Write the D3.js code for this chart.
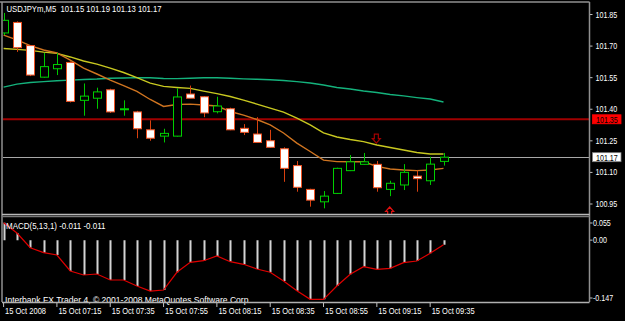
<!DOCTYPE html>
<html>
<head>
<meta charset="utf-8">
<script src="https://cdn.jsdelivr.net/npm/d3@7"></script>
<style>
  html, body { margin: 0; padding: 0; background: #000; }
  svg { display: block; }
  text { font-family: "Liberation Sans", Arial, sans-serif; font-size: 9.5px; fill: #fff; }
</style>
</head>
<body>
<script>
// USDJPYm M5 bars, 06:55 .. 09:40
let opens  = [101.76, 101.81, 101.70, 101.55, 101.59, 101.62, 101.44, 101.45, 101.49, 101.398, 101.385, 101.30, 101.27, 101.27, 101.47, 101.457, 101.386, 101.40, 101.307, 101.28, 101.248, 101.21, 101.13, 101.017, 100.958, 100.998, 101.106, 101.136, 101.136, 101.017, 101.038, 101.08, 101.058, 101.15];
let highs  = [101.855, 101.815, 101.70, 101.665, 101.665, 101.625, 101.52, 101.50, 101.495, 101.44, 101.39, 101.345, 101.305, 101.497, 101.51, 101.46, 101.457, 101.405, 101.327, 101.36, 101.30, 101.217, 101.152, 101.02, 101.009, 101.12, 101.18, 101.19, 101.152, 101.058, 101.137, 101.106, 101.172, 101.19];
let lows   = [101.75, 101.67, 101.555, 101.548, 101.56, 101.43, 101.367, 101.40, 101.38, 101.367, 101.26, 101.248, 101.24, 101.268, 101.45, 101.36, 101.378, 101.298, 101.275, 101.24, 101.215, 101.053, 101.006, 100.935, 100.927, 100.995, 101.104, 101.135, 101.006, 100.985, 101.014, 101.006, 101.038, 101.13];
let closes = [101.82, 101.69, 101.56, 101.60, 101.61, 101.435, 101.46, 101.48, 101.385, 101.40, 101.305, 101.26, 101.283, 101.456, 101.45, 101.38, 101.413, 101.30, 101.288, 101.24, 101.217, 101.117, 101.027, 100.966, 100.985, 101.117, 101.148, 101.148, 101.025, 101.046, 101.098, 101.068, 101.137, 101.17];

// moving averages
let maFast = [101.750, 101.727, 101.700, 101.679, 101.665, 101.631, 101.593, 101.565, 101.536, 101.510, 101.482, 101.444, 101.411, 101.420, 101.422, 101.418, 101.413, 101.387, 101.370, 101.349, 101.323, 101.285, 101.237, 101.197, 101.156, 101.149, 101.148, 101.148, 101.126, 101.114, 101.109, 101.106, 101.109, 101.117];
let maMid  = [101.686, 101.682, 101.677, 101.669, 101.663, 101.646, 101.627, 101.612, 101.593, 101.572, 101.548, 101.522, 101.506, 101.501, 101.497, 101.484, 101.472, 101.458, 101.441, 101.422, 101.403, 101.384, 101.356, 101.323, 101.285, 101.266, 101.254, 101.244, 101.228, 101.216, 101.204, 101.192, 101.185, 101.185];
let maSlow = [101.503, 101.517, 101.525, 101.529, 101.533, 101.536, 101.539, 101.541, 101.545, 101.546, 101.548, 101.547, 101.544, 101.543, 101.545, 101.547, 101.547, 101.545, 101.542, 101.540, 101.538, 101.534, 101.529, 101.522, 101.513, 101.501, 101.494, 101.484, 101.477, 101.468, 101.461, 101.453, 101.446, 101.432];

// MACD(5,13,1)
let macd = [0.0415, 0.017, -0.018, -0.0298, -0.0353, -0.0733, -0.0828, -0.0805, -0.0947, -0.0947, -0.109, -0.1209, -0.1185, -0.0764, -0.0527, -0.0489, -0.0377, -0.0512, -0.0574, -0.0686, -0.0764, -0.0971, -0.1201, -0.1406, -0.1406, -0.109, -0.0812, -0.0631, -0.0693, -0.0669, -0.0536, -0.0496, -0.0313, -0.011];

let arrowBars = [28, 29];
let arrowPrices = [101.258, 100.912];
let arrowDirs = ["down", "up"];

let priceTicks = [101.85, 101.70, 101.55, 101.40, 101.25, 101.10, 100.95];
let levelLine = 101.35;
let bidPrice = 101.17;
let macdTicks = [0.055, 0, -0.147];
let macdTickLabels = ["0.055", "0.00", "-0.147"];
let timeTickBars = [0, 4, 8, 12, 16, 20, 24, 28, 32];
let timeLabels = ["15 Oct 2008", "15 Oct 07:15", "15 Oct 07:35", "15 Oct 07:55", "15 Oct 08:15", "15 Oct 08:35", "15 Oct 08:55", "15 Oct 09:15", "15 Oct 09:35"];

let symbolTitle = "USDJPYm,M5";
let titleValues = ["101.15", "101.19", "101.13", "101.17"];
let macdTitle = "MACD(5,13,1) -0.011 -0.011";
let copyright = "Interbank FX Trader 4, \u00a9 2001-2008 MetaQuotes Software Corp.";

let w = 625, h = 321;
let left = 2, right = 589.5, mainTop = 2, mainBottom = 214, subTop = 217, subBottom = 302;

let x = d3.scaleLinear().domain([0, 33]).range([3.6, 443.5]);
let y = d3.scaleLinear().domain([100.95, 101.85]).range([203.5, 14]);
let ym = d3.scaleLinear().domain([-0.147, 0.055]).range([subBottom, subTop]);

// the terminal font is much narrower than anything installed: squeeze texts horizontally
function squeeze(sel, k) {
  sel.each(function() {
    let len = this.getComputedTextLength();
    this.setAttribute("textLength", len * k);
    this.setAttribute("lengthAdjust", "spacingAndGlyphs");
  });
}

let svg = d3.select("body").append("svg").attr("width", w).attr("height", h);
svg.append("rect").attr("width", w).attr("height", h).attr("fill", "#000");

let defs = svg.append("defs");
defs.append("clipPath").attr("id", "main-area").append("rect")
  .attr("x", left + 1).attr("y", mainTop + 1).attr("width", right - left - 1).attr("height", mainBottom - mainTop);
defs.append("clipPath").attr("id", "sub-area").append("rect")
  .attr("x", left + 1).attr("y", subTop).attr("width", right - left - 1).attr("height", subBottom - subTop);

let main = svg.append("g").attr("clip-path", "url(#main-area)");

// horizontal level + bid line
main.append("line").attr("x1", left).attr("x2", right)
  .attr("y1", y(levelLine)).attr("y2", y(levelLine))
  .attr("stroke", "#a00000").attr("stroke-width", 2);
main.append("line").attr("x1", left).attr("x2", right)
  .attr("y1", Math.round(y(bidPrice)) + 0.5).attr("y2", Math.round(y(bidPrice)) + 0.5)
  .attr("stroke", "#a8a8a8").attr("stroke-width", 1);

// moving averages
let maLine = d3.line().x((d, i) => x(i)).y(d => y(d));
let maData = [maSlow, maMid, maFast];
let maColors = ["#14b27c", "#c8c820", "#cf7420"];
main.selectAll(".ma").data(maData).enter().append("path")
  .attr("class", "ma")
  .attr("d", d => maLine(d))
  .attr("fill", "none")
  .attr("stroke", (d, i) => maColors[i])
  .attr("stroke-width", 1.4);

// candles
let bars = d3.range(opens.length);
let bull = i => closes[i] >= opens[i];
let candles = main.selectAll(".candle").data(bars).enter().append("g").attr("class", "candle");
candles.append("line")
  .attr("x1", i => Math.round(x(i)) + 0.5).attr("x2", i => Math.round(x(i)) + 0.5)
  .attr("y1", i => y(highs[i])).attr("y2", i => y(lows[i]))
  .attr("stroke", i => bull(i) ? "#00c800" : "#d8400f")
  .attr("stroke-width", 1);
candles.append("rect")
  .attr("x", i => Math.round(x(i)) - 3.5)
  .attr("width", 8)
  .attr("y", i => y(Math.max(opens[i], closes[i])))
  .attr("height", i => Math.max(1, Math.abs(y(opens[i]) - y(closes[i]))))
  .attr("fill", i => bull(i) ? "#000" : "#fff")
  .attr("stroke", i => bull(i) ? "#00d000" : "#ee5020")
  .attr("stroke-width", 1);

// arrows
let arrowPath = dir => dir === "down"
  ? "M-2,-4.5 L2,-4.5 L2,0 L4,0 L0,4.5 L-4,0 L-2,0 Z"
  : "M-2,4.5 L2,4.5 L2,0 L4,0 L0,-4.5 L-4,0 L-2,0 Z";
main.selectAll(".arrow").data(arrowBars).enter().append("path")
  .attr("class", "arrow")
  .attr("transform", (d, i) => "translate(" + (x(d) - 0.5) + "," + y(arrowPrices[i]) + ")")
  .attr("d", (d, i) => arrowPath(arrowDirs[i]))
  .attr("fill", "none")
  .attr("stroke", (d, i) => arrowDirs[i] === "down" ? "#a00000" : "#e01010")
  .attr("stroke-width", 1.2);

// title: symbol + OHLC of the last bar, as one line
svg.append("text").attr("x", 6.5).attr("y", 11.5)
  .attr("xml:space", "preserve")
  .attr("textLength", 155).attr("lengthAdjust", "spacingAndGlyphs")
  .text(symbolTitle + "  " + titleValues.join(" "));

// price axis
let yAxis = d3.axisRight(y).tickValues(priceTicks).tickSize(3).tickPadding(3)
  .tickFormat(d3.format(".2f"));
let ya = svg.append("g").attr("transform", "translate(" + right + ",0)").call(yAxis);
ya.select(".domain").remove();
ya.selectAll("line").attr("stroke", "#c0c0c0");
ya.selectAll("text").attr("fill", "#fff").style("font-size", "9.5px")
  .style("font-family", "'Liberation Sans', Arial, sans-serif");
squeeze(ya.selectAll("text"), 0.75);

// price tags
let tags = [{v: levelLine, bg: "#ff0000", fg: "#000"}, {v: bidPrice, bg: "#fff", fg: "#000"}];
tags.forEach(t => {
  svg.append("rect").attr("x", 592.5).attr("y", y(t.v) - 4.5).attr("width", 28.5).attr("height", 9)
    .attr("fill", t.bg).attr("stroke", t.bg === "#fff" ? "#808080" : t.bg).attr("stroke-width", 0.8);
  let tt = svg.append("text").attr("x", 596).attr("y", y(t.v) + 3.4).style("fill", t.fg).text(d3.format(".2f")(t.v));
  squeeze(tt, 0.75);
});

// MACD window
let sub = svg.append("g").attr("clip-path", "url(#sub-area)");
sub.selectAll(".hist").data(macd).enter().append("line")
  .attr("class", "hist")
  .attr("x1", (d, i) => Math.round(x(i)) + 0.5).attr("x2", (d, i) => Math.round(x(i)) + 0.5)
  .attr("y1", ym(0)).attr("y2", d => ym(d))
  .attr("stroke", "#d4d4d4").attr("stroke-width", 2);
sub.append("path")
  .attr("d", d3.line().x((d, i) => x(i)).y(d => ym(d))(macd))
  .attr("fill", "none").attr("stroke", "#e00000").attr("stroke-width", 1.2);

squeeze(svg.append("text").attr("x", 6).attr("y", 228.5).text(macdTitle), 0.84);
squeeze(svg.append("text").attr("x", 5).attr("y", 302.5).text(copyright), 0.9);

// MACD scale labels (top/bottom drawn inside the window)
let macdOffsets = [6, 0, -4];
macdTicks.forEach((v, i) => {
  let ty = ym(v) + macdOffsets[i];
  svg.append("line").attr("x1", right).attr("x2", right + 3).attr("y1", ty).attr("y2", ty).attr("stroke", "#c0c0c0");
  squeeze(svg.append("text").attr("x", right + 3.5).attr("y", ty + 3.2).text(macdTickLabels[i]), 0.75);
});

// frames
let frame = svg.append("g").attr("fill", "none").attr("stroke", "#909090").attr("stroke-width", 1.5);
frame.append("line").attr("x1", 0).attr("x2", right).attr("y1", mainTop).attr("y2", mainTop);
frame.append("line").attr("x1", left).attr("x2", left).attr("y1", mainTop).attr("y2", subBottom);
frame.append("line").attr("x1", right).attr("x2", right).attr("y1", mainTop).attr("y2", subBottom);
frame.append("line").attr("x1", left).attr("x2", right).attr("y1", 214.5).attr("y2", 214.5).attr("stroke", "#b8b8b8");
frame.append("line").attr("x1", left).attr("x2", right).attr("y1", 216.5).attr("y2", 216.5).attr("stroke", "#787878");
frame.append("line").attr("x1", left).attr("x2", right).attr("y1", subBottom + 0.5).attr("y2", subBottom + 0.5).attr("stroke", "#b0b0b0");

// time axis
let xAxis = d3.axisBottom(x).tickValues(timeTickBars).tickSize(4)
  .tickFormat((d, i) => timeLabels[i]);
let xa = svg.append("g").attr("transform", "translate(0," + (subBottom + 1) + ")").call(xAxis);
xa.select(".domain").remove();
xa.selectAll(".tick line").attr("stroke", "#c0c0c0").attr("transform", "translate(-0.5,0)");
xa.selectAll("text").attr("text-anchor", "start").attr("x", 1).attr("y", 11).attr("dy", 0)
  .attr("fill", "#fff").style("font-size", "9.5px")
  .style("font-family", "'Liberation Sans', Arial, sans-serif");
squeeze(xa.selectAll("text"), 0.79);
</script>
</body>
</html>
